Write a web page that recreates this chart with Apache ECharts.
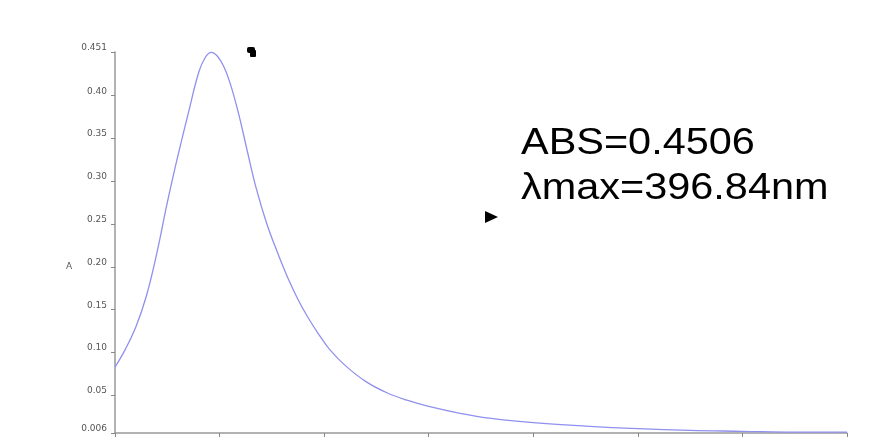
<!DOCTYPE html>
<html>
<head>
<meta charset="utf-8">
<script src="https://cdn.jsdelivr.net/npm/echarts@6/dist/echarts.min.js"></script>
<style>html,body{margin:0;padding:0;background:#fff}#c{width:878px;height:439px}</style>
</head>
<body>
<div id="c"></div>
<script>
// wavelength (nm)
var wavelengths = [300, 310, 320, 330, 340, 350, 360, 370, 380, 386, 392, 398, 404, 410, 418, 426, 435, 445, 455, 465, 475, 485, 495, 505, 520, 540, 560, 580, 600, 630, 660, 700, 750, 800, 850, 900, 950, 1000];
// absorbance
var absorbance = [0.083, 0.104, 0.130, 0.166, 0.216, 0.275, 0.329, 0.379, 0.427, 0.444, 0.4506, 0.446, 0.434, 0.415, 0.380, 0.338, 0.292, 0.251, 0.218, 0.188, 0.162, 0.140, 0.121, 0.104, 0.085, 0.066, 0.053, 0.044, 0.037, 0.029, 0.023, 0.018, 0.014, 0.011, 0.009, 0.008, 0.007, 0.007];
var yTickValues = [0.006, 0.05, 0.10, 0.15, 0.20, 0.25, 0.30, 0.35, 0.40, 0.451];
var yTickLabels = ['0.006', '0.05', '0.10', '0.15', '0.20', '0.25', '0.30', '0.35', '0.40', '0.451'];
var yAxisTitle = 'A';
var annotationLines = ['ABS=0.4506', 'λmax=396.84nm'];

var chart = echarts.init(document.getElementById('c'));
var pts = wavelengths.map(function (w, i) { return [w, absorbance[i]]; });
chart.setOption({
  animation: false,
  grid: { left: 115, right: 31, top: 52, bottom: 6, containLabel: false },
  xAxis: {
    type: 'value', min: 300, max: 1000, interval: 100,
    axisLine: { lineStyle: { color: '#999', width: 1.5 } },
    axisTick: { show: true, length: 4, lineStyle: { color: '#888' } },
    axisLabel: { show: false },
    splitLine: { show: false }
  },
  yAxis: {
    type: 'value', min: 0.006, max: 0.451,
    axisLine: { show: true, lineStyle: { color: '#999', width: 1.5 } },
    axisTick: { show: true, length: 4, customValues: yTickValues, lineStyle: { color: '#888' } },
    axisLabel: {
      customValues: yTickValues,
      formatter: function (v) {
        var idx = yTickValues.indexOf(v);
        return idx >= 0 ? yTickLabels[idx] : '';
      },
      color: '#555', fontSize: 9, fontFamily: 'DejaVu Sans',
      margin: 8, verticalAlign: 'bottom'
    },
    splitLine: { show: false }
  },
  series: [{
    type: 'line', data: pts, smooth: 0.4, showSymbol: false,
    lineStyle: { color: '#9090ee', width: 1.3 }
  }],
  graphic: [
    { type: 'text', left: 66, top: 262, style: { text: yAxisTitle, font: '9px "DejaVu Sans"', fill: '#555' } },
    { type: 'text', left: 521, top: 125, style: { text: annotationLines[0], font: '37px "Liberation Sans"', fill: '#000' }, scaleX: 1.12, originX: 0 },
    { type: 'text', left: 521, top: 170, style: { text: annotationLines[1], font: '37px "Liberation Sans"', fill: '#000' }, scaleX: 1.12, originX: 0 },
    { type: 'polygon', shape: { points: [[485, 211], [485, 223], [498, 217]] }, style: { fill: '#000' } },
    { type: 'rect', shape: { x: 247, y: 47, width: 8, height: 6, r: 2 }, style: { fill: '#000' } },
    { type: 'rect', shape: { x: 250, y: 50, width: 6, height: 7, r: 1 }, style: { fill: '#000' } }
  ]
});
</script>
</body>
</html>
